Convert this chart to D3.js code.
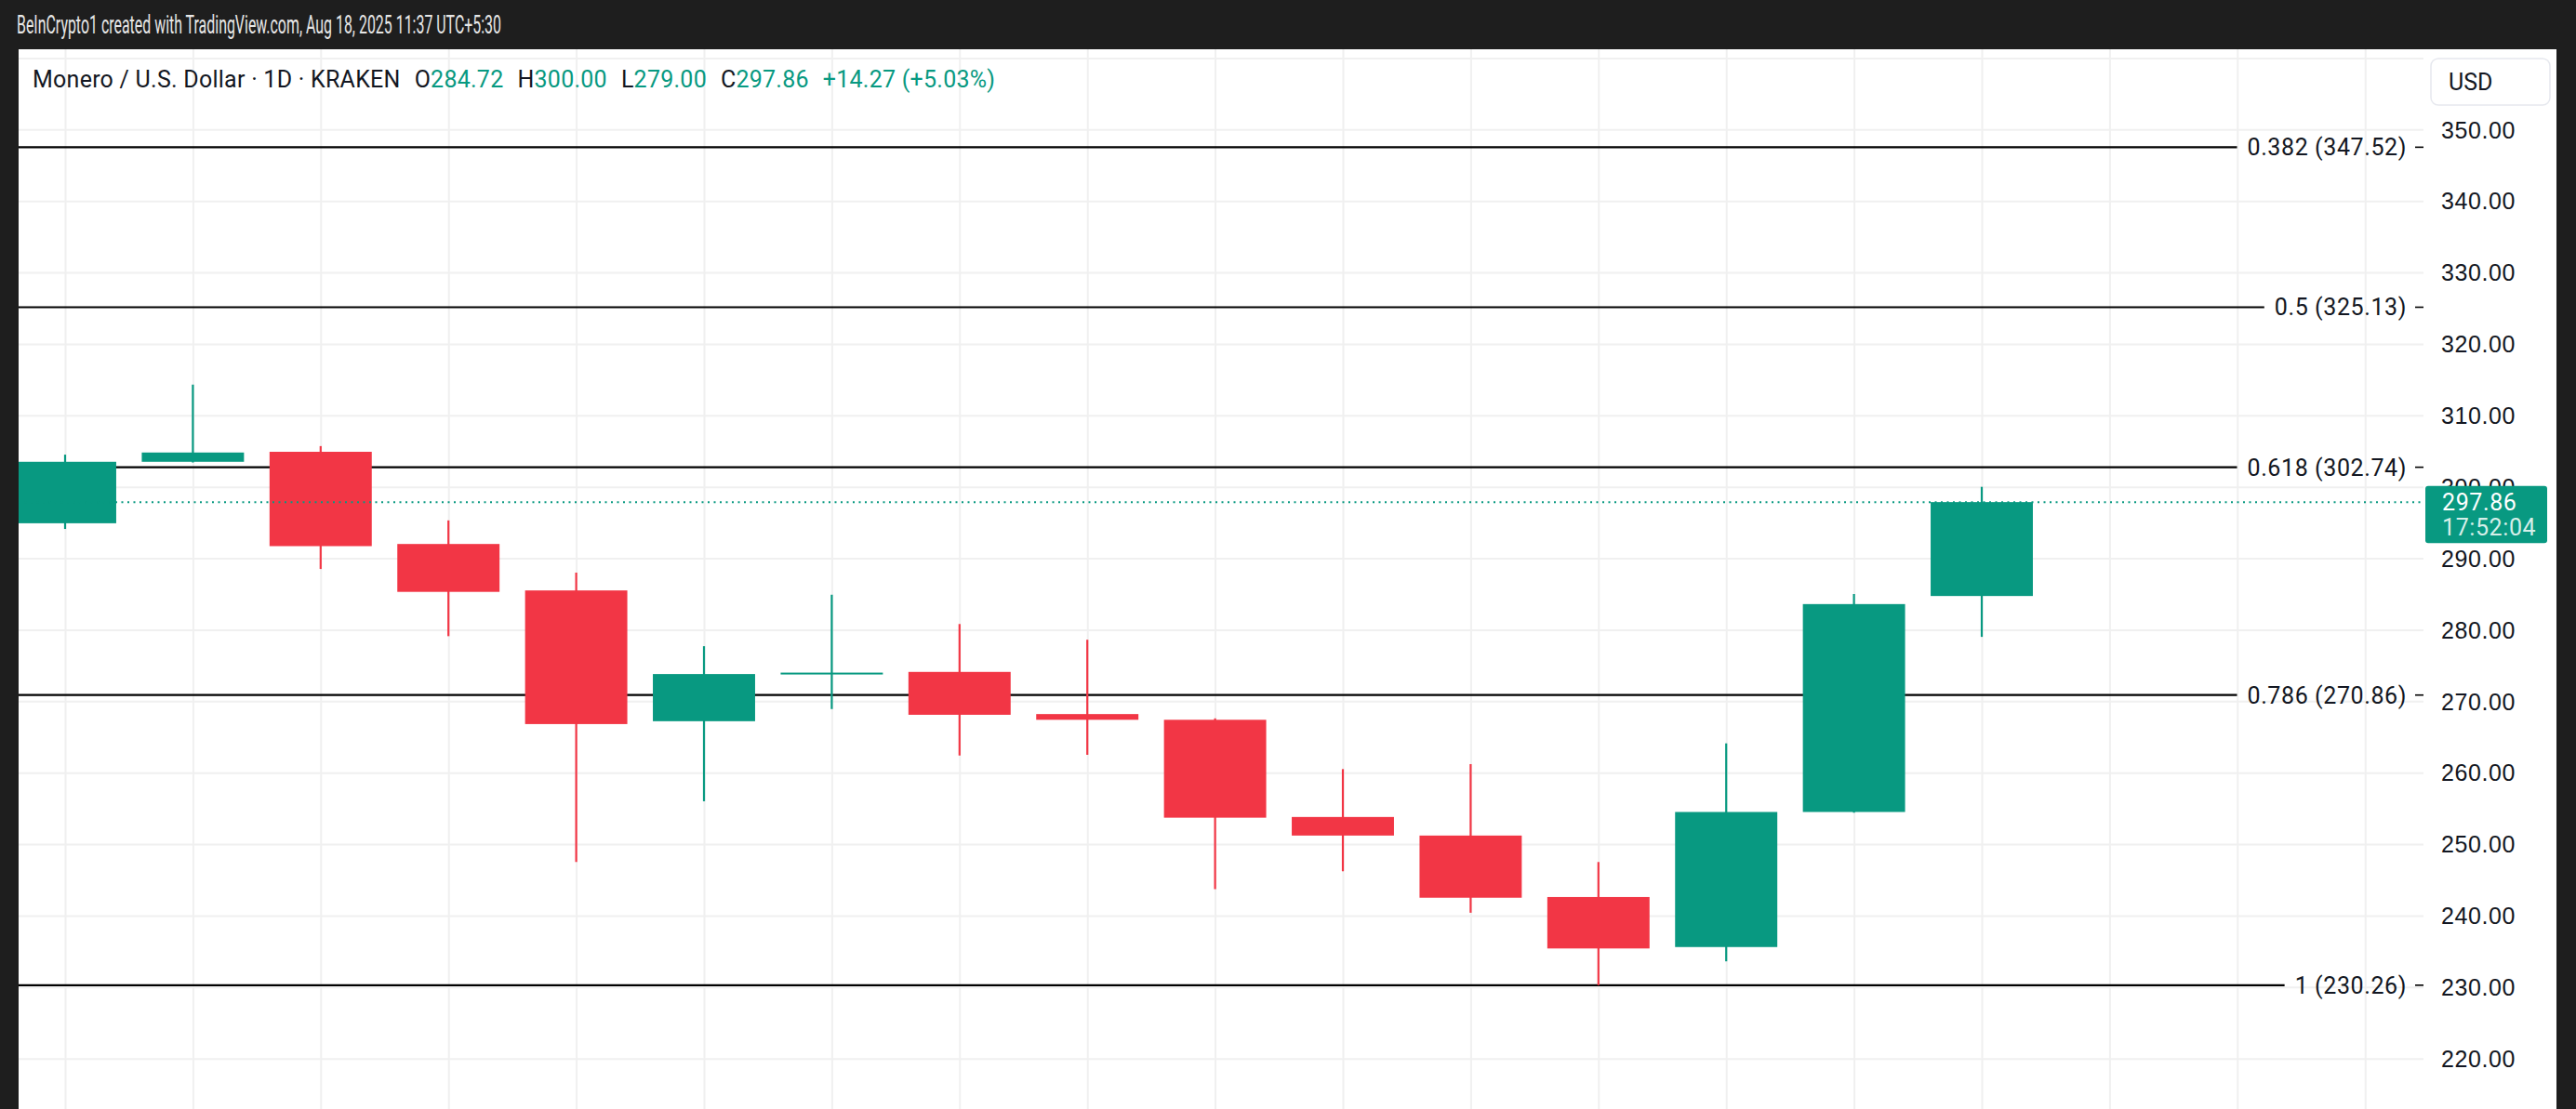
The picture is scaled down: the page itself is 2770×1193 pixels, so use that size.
<!DOCTYPE html>
<html lang="en">
<head>
  <meta charset="UTF-8" />
  <title>Monero / U.S. Dollar 1D</title>
  <script src="https://d3js.org/d3.v7.min.js"></script>
  <style>
    body {
      margin: 0;
      background: #1e1e1e;
      font-family: Roboto, 'Noto Sans', sans-serif;
    }
    .grid line { stroke: #f0f0f0; stroke-width: 2; }
    .grid path { display: none; }
    .price-axis path { display: none; }
    .price-axis text { font-size: 25px; letter-spacing: 0.6px; fill: #131722; }
    .fib-label { font-size: 25px; letter-spacing: 0.6px; fill: #131722; }
  </style>
</head>
<body>
  <svg id="chart" width="2770" height="1193"></svg>

  <script>
    // Daily candles, XMR/USD on Kraken
    const dates  = ["Aug 03", "Aug 04", "Aug 05", "Aug 06", "Aug 07", "Aug 08", "Aug 09", "Aug 10",
                    "Aug 11", "Aug 12", "Aug 13", "Aug 14", "Aug 15", "Aug 16", "Aug 17", "Aug 18"];
    const opens  = [294.9, 303.5, 304.9, 292.0, 285.5, 267.2, 273.8, 274.1, 268.2, 267.4, 253.8, 251.2, 242.6, 235.6, 254.5, 284.72];
    const highs  = [304.5, 314.3, 305.7, 295.3, 288.0, 277.7, 284.9, 280.8, 278.6, 267.6, 260.5, 261.2, 247.5, 264.1, 285.0, 300.00];
    const lows   = [294.1, 303.4, 288.5, 279.1, 247.5, 256.0, 268.9, 262.4, 262.5, 243.7, 246.2, 240.4, 230.26, 233.6, 254.4, 279.00];
    const closes = [303.5, 304.8, 291.7, 285.3, 266.8, 273.8, 274.0, 268.1, 267.4, 253.7, 251.2, 242.5, 235.4, 254.5, 283.59, 297.86];

    // Fibonacci retracement levels
    const fibRatios = [0.382, 0.5, 0.618, 0.786, 1];
    const fibPrices = [347.52, 325.13, 302.74, 270.86, 230.26];

    // price axis ticks
    const gridTicks  = [220, 230, 240, 250, 260, 270, 280, 290, 300, 310, 320, 330, 340, 350, 360];
    const labelTicks = [220, 230, 240, 250, 260, 270, 280, 290, 300, 310, 320, 330, 340, 350];

    const lastPrice = 297.86;
    const countdown = "17:52:04";

    const green = "#089981";
    const red = "#f23645";

    const svg = d3.select("#chart");

    // panel geometry
    const panel = { left: 20, top: 53, right: 2749, bottom: 1193 };
    const plotRight = 2606;

    const candles = dates.map((d, i) => ({
      date: d, open: opens[i], high: highs[i], low: lows[i], close: closes[i]
    }));

    const step = 137.4;
    const x = d3.scaleLinear()
      .domain([0, dates.length - 1])
      .range([70, 70 + (dates.length - 1) * step]);

    const y = d3.scaleLinear()
      .domain([220, 350])
      .range([1138.7, 139.3]);

    // header bar text
    svg.append("text")
      .attr("x", 18)
      .attr("y", 36)
      .attr("fill", "#e6e6e6")
      .style("font-size", "28px")
      .attr("textLength", 521)
      .attr("lengthAdjust", "spacingAndGlyphs")
      .text("BeInCrypto1 created with TradingView.com, Aug 18, 2025 11:37 UTC+5:30");

    // white chart panel
    svg.append("rect")
      .attr("x", panel.left)
      .attr("y", panel.top)
      .attr("width", panel.right - panel.left)
      .attr("height", panel.bottom - panel.top)
      .attr("fill", "#ffffff");

    svg.append("clipPath").attr("id", "plot-clip")
      .append("rect")
      .attr("x", panel.left)
      .attr("y", panel.top)
      .attr("width", plotRight - panel.left)
      .attr("height", panel.bottom - panel.top);

    const plot = svg.append("g").attr("clip-path", "url(#plot-clip)");

    // horizontal grid
    plot.append("g")
      .attr("class", "grid")
      .attr("transform", `translate(${plotRight},0)`)
      .call(d3.axisLeft(y).tickValues(gridTicks).tickSize(plotRight - panel.left).tickFormat(""));

    // vertical grid, one line per day slot
    plot.append("g")
      .attr("class", "grid")
      .attr("transform", `translate(0,${panel.bottom})`)
      .call(d3.axisBottom(x).tickValues(d3.range(0, 19)).tickSize(-(panel.bottom - panel.top)).tickFormat(""));

    // fib lines (drawn under candles)
    const fibGroup = svg.append("g");
    const labelRight = 2588;
    fibPrices.forEach((p, i) => {
      const label = fibGroup.append("text")
        .attr("class", "fib-label")
        .attr("x", labelRight)
        .attr("y", y(p) + 9)
        .attr("text-anchor", "end")
        .text(`${fibRatios[i]} (${p.toFixed(2)})`);
      const w = label.node().getComputedTextLength();
      fibGroup.insert("line", "text")
        .attr("x1", panel.left)
        .attr("x2", labelRight - w - 11)
        .attr("y1", y(p))
        .attr("y2", y(p))
        .attr("stroke", "#000")
        .attr("stroke-width", 2.2);
      fibGroup.append("line")
        .attr("x1", 2597)
        .attr("x2", plotRight)
        .attr("y1", y(p))
        .attr("y2", y(p))
        .attr("stroke", "#000")
        .attr("stroke-width", 1.6);
    });

    // candles
    const bodyW = step * 0.8;
    const cg = svg.append("g").attr("clip-path", "url(#plot-clip)");

    cg.selectAll(".wick")
      .data(candles)
      .enter()
      .append("line")
      .attr("class", "wick")
      .attr("x1", (d, i) => x(i))
      .attr("x2", (d, i) => x(i))
      .attr("y1", d => y(d.high))
      .attr("y2", d => y(d.low))
      .attr("stroke", d => d.close >= d.open ? green : red)
      .attr("stroke-width", 2.2);

    cg.selectAll(".body")
      .data(candles)
      .enter()
      .append("rect")
      .attr("class", "body")
      .attr("x", (d, i) => x(i) - bodyW / 2)
      .attr("y", d => y(Math.max(d.open, d.close)))
      .attr("width", bodyW)
      .attr("height", d => Math.max(2, Math.abs(y(d.open) - y(d.close))))
      .attr("fill", d => d.close >= d.open ? green : red);

    // last price dotted line
    svg.append("line")
      .attr("x1", panel.left)
      .attr("x2", 2604)
      .attr("y1", y(lastPrice))
      .attr("y2", y(lastPrice))
      .attr("stroke", green)
      .attr("stroke-width", 2)
      .attr("stroke-dasharray", "2,4.5");

    // price axis labels
    svg.append("g")
      .attr("class", "price-axis")
      .attr("transform", `translate(${plotRight},0)`)
      .call(d3.axisRight(y).tickValues(labelTicks).tickSize(0).tickPadding(19).tickFormat(d3.format(".2f")))
      .selectAll("text")
      .attr("dy", "0.35em");

    // last price tag
    const tagY = y(lastPrice);
    svg.append("rect")
      .attr("x", 2608)
      .attr("y", tagY - 17.5)
      .attr("width", 131)
      .attr("height", 61.5)
      .attr("rx", 3)
      .attr("fill", green);
    svg.append("text")
      .attr("x", 2626)
      .attr("y", tagY + 9)
      .attr("fill", "#ffffff")
      .style("font-size", "25px")
      .style("letter-spacing", "0.6px")
      .text(lastPrice.toFixed(2));
    svg.append("text")
      .attr("x", 2626)
      .attr("y", tagY + 36)
      .attr("fill", "#d6efe9")
      .style("font-size", "25px")
      .style("letter-spacing", "0.6px")
      .text(countdown);

    // currency box
    svg.append("rect")
      .attr("x", 2614)
      .attr("y", 63)
      .attr("width", 128)
      .attr("height", 50)
      .attr("rx", 8)
      .attr("fill", "#ffffff")
      .attr("stroke", "#e6e8ee")
      .attr("stroke-width", 1.5);
    svg.append("text")
      .attr("x", 2633)
      .attr("y", 97)
      .attr("fill", "#131722")
      .style("font-size", "25px")
      .text("USD");

    // legend line: change is measured against the previous close
    const last = candles[candles.length - 1];
    const prevClose = candles[candles.length - 2].close;
    const chg = last.close - prevClose;
    const legend = svg.append("text")
      .attr("x", 35)
      .attr("y", 94)
      .style("font-size", "25px")
      .style("letter-spacing", "0.25px")
      .attr("fill", "#131722");
    legend.append("tspan").text("Monero / U.S. Dollar · 1D · KRAKEN");
    [["O", last.open], ["H", last.high], ["L", last.low], ["C", last.close]].forEach(([k, v]) => {
      legend.append("tspan").attr("dx", 15).text(k);
      legend.append("tspan").attr("fill", green).text(v.toFixed(2));
    });
    legend.append("tspan")
      .attr("dx", 15)
      .attr("fill", green)
      .text(`+${chg.toFixed(2)} (+${(chg / prevClose * 100).toFixed(2)}%)`);
  </script>
</body>
</html>
